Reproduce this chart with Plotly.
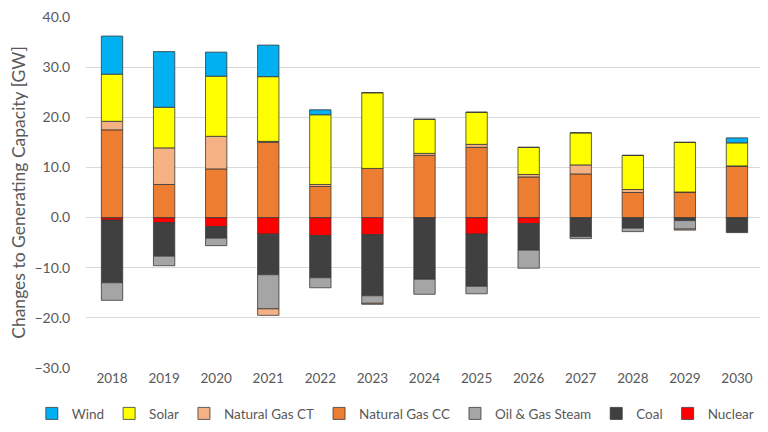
import plotly.graph_objects as go

years = [str(y) for y in range(2018, 2031)]

wind = [7.6, 11.1, 4.8, 6.3, 1.0, 0, 0, 0, 0, 0, 0, 0, 1.0]
solar = [9.4, 8.1, 12.0, 12.9, 13.9, 15.1, 6.8, 6.4, 5.4, 6.4, 6.8, 9.9, 4.6]
ng_ct_add = [1.7, 7.3, 6.5, 0.2, 0.4, 0, 0.4, 0.6, 0.5, 1.8, 0.6, 0, 0.1]
ng_cc = [17.5, 6.6, 9.7, 15.0, 6.2, 9.8, 12.4, 14.0, 8.1, 8.7, 5.0, 5.1, 10.2]
nuclear = [-0.5, -1.0, -1.8, -3.3, -3.6, -3.4, 0, -3.3, -1.2, 0, 0, 0, 0]
coal = [-12.5, -6.7, -2.3, -8.1, -8.4, -12.2, -12.3, -10.4, -5.3, -3.8, -2.1, -0.6, -3.0]
oil_gas_steam = [-3.5, -1.9, -1.5, -6.8, -2.0, -1.5, -3.0, -1.5, -3.6, -0.4, -0.7, -1.7, 0]
ng_ct_ret = [0, 0, 0, -1.3, 0, -0.2, 0, 0, 0, 0, 0, -0.2, 0]

colors = {
    "Wind": "#00B0F0",
    "Solar": "#FFFF00",
    "Natural Gas CT": "#F4B183",
    "Natural Gas CC": "#ED7D31",
    "Oil & Gas Steam": "#A5A5A5",
    "Coal": "#404040",
    "Nuclear": "#FF0000",
}

# trace order sets stacking: negatives from 0 down, positives from 0 up
series = [
    ("Nuclear", nuclear, True, 7),
    ("Coal", coal, True, 6),
    ("Oil & Gas Steam", oil_gas_steam, True, 5),
    ("Natural Gas CT", ng_ct_ret, False, 3),
    ("Natural Gas CC", ng_cc, True, 4),
    ("Natural Gas CT", ng_ct_add, True, 3),
    ("Solar", solar, True, 2),
    ("Wind", wind, True, 1),
]

fig = go.Figure()
for name, vals, show, rank in series:
    fig.add_trace(go.Bar(
        x=years, y=vals, name=name,
        legendgroup=name, showlegend=show, legendrank=rank,
        marker=dict(color=colors[name], line=dict(color="#3a3a3a", width=0.8)),
    ))

font_family = "Lato, 'Open Sans', sans-serif"
fig.update_layout(
    width=768, height=432,
    barmode="relative",
    bargap=0.59,
    plot_bgcolor="white", paper_bgcolor="white",
    margin=dict(l=78, r=13, t=9, b=72, autoexpand=False),
    font=dict(family=font_family, color="#595959", size=14),
    xaxis=dict(
        showgrid=False, showline=False, ticks="", automargin=False,
        tickfont=dict(size=13.5, color="#595959"),
    ),
    yaxis=dict(
        range=[-30, 40], dtick=10, tickformat=".1f", automargin=False,
        showgrid=True, gridcolor="#D9D9D9", gridwidth=1,
        zeroline=False, showline=False, ticklabeloverflow="allow",
        ticks="outside", ticklen=12, tickcolor="rgba(0,0,0,0)",
        tickfont=dict(size=14, color="#595959"),
        title=dict(text="Changes to Generating Capacity [GW]",
                   font=dict(size=17.5, color="#595959")),
    ),
    legend=dict(
        orientation="h", xref="paper", yref="paper",
        x=-0.08, xanchor="left", y=-0.13, yanchor="middle",
        font=dict(size=13.5, color="#595959"),
        bgcolor="rgba(0,0,0,0)",
        itemwidth=30, tracegroupgap=0,
        traceorder="normal",
    ),
)

fig.write_html("out.html")
